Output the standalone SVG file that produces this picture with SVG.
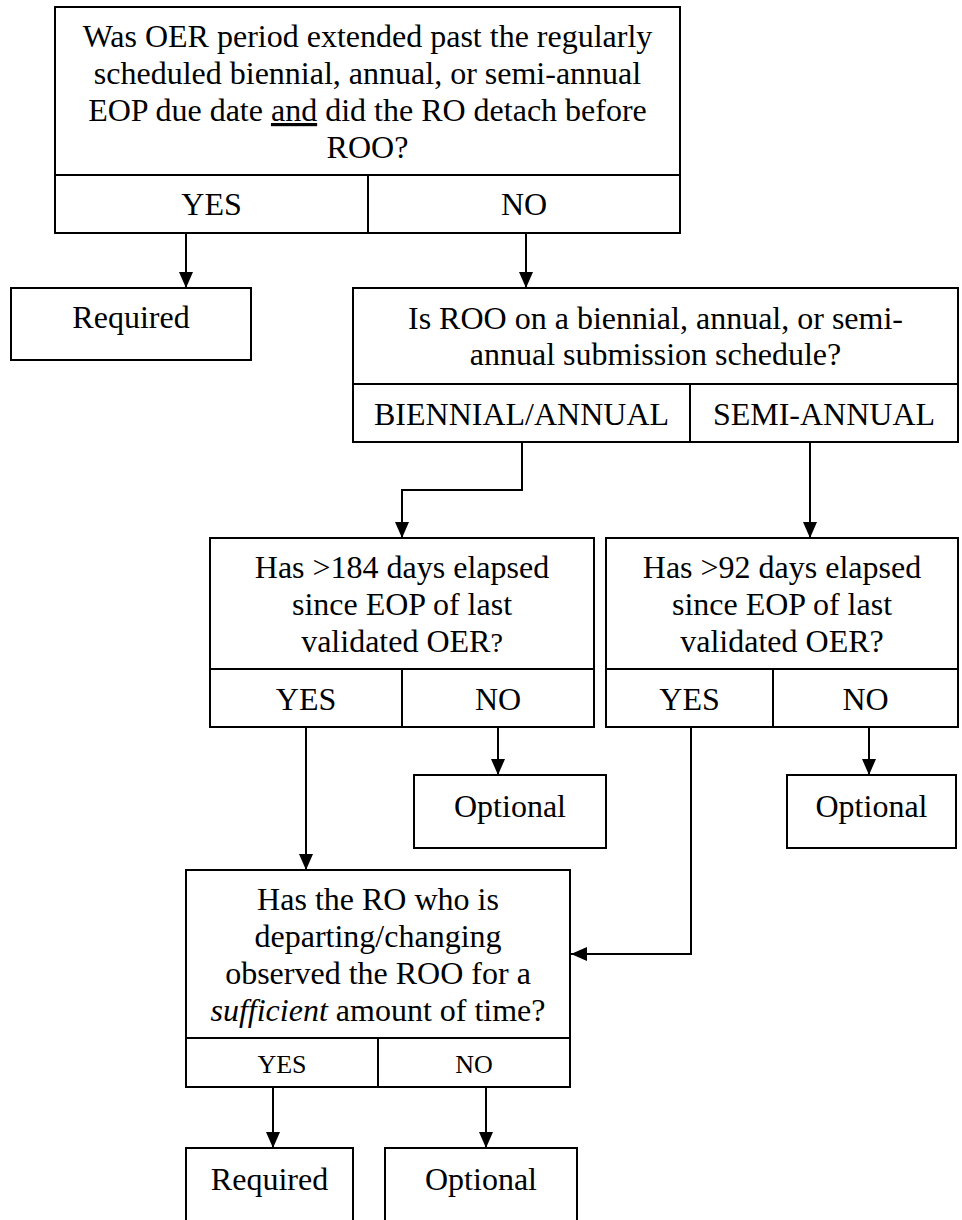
<svg xmlns="http://www.w3.org/2000/svg" width="962" height="1220" viewBox="0 0 962 1220">
  <style>
    .box { fill: #ffffff; stroke: #000000; stroke-width: 2; }
    .div { stroke: #000000; stroke-width: 2; fill: none; }
    .t { font-family: "Liberation Serif", "Times New Roman", serif; font-size: 32px; fill: #000000; text-anchor: middle; }
    .ts { font-family: "Liberation Serif", "Times New Roman", serif; font-size: 26px; fill: #000000; text-anchor: middle; }
    .wire { stroke: #000000; stroke-width: 2; fill: none; marker-end: url(#arrow); }
  </style>
  <defs>
    <marker id="arrow" markerUnits="userSpaceOnUse" markerWidth="16" markerHeight="14" refX="16" refY="7" orient="auto" viewBox="0 0 16 14">
      <path d="M0,0 L16,7 L0,14 Z" fill="#000000"/>
    </marker>
  </defs>

  <rect width="962" height="1220" fill="#ffffff"/>

  <!-- connectors -->
  <g id="connectors">
    <path class="wire" d="M186,233 V288"/>
    <path class="wire" d="M526,233 V288"/>
    <path class="wire" d="M522,442 V490 H402 V538"/>
    <path class="wire" d="M810,442 V538"/>
    <path class="wire" d="M306,727 V870"/>
    <path class="wire" d="M498,727 V775"/>
    <path class="wire" d="M691,727 V954 H571"/>
    <path class="wire" d="M869,727 V775"/>
    <path class="wire" d="M273,1087 V1148"/>
    <path class="wire" d="M486,1087 V1148"/>
  </g>

  <!-- Q1: extended OER period -->
  <g id="q-extended">
    <rect class="box" x="55" y="7" width="625" height="226"/>
    <line class="div" x1="55" y1="175" x2="680" y2="175"/>
    <line class="div" x1="368" y1="175" x2="368" y2="233"/>
    <text class="t" x="367.5" y="47">Was OER period extended past the regularly</text>
    <text class="t" x="367.5" y="84">scheduled biennial, annual, or semi-annual</text>
    <text class="t" x="367.5" y="121">EOP due date <tspan text-decoration="underline">and</tspan> did the RO detach before</text>
    <text class="t" x="367.5" y="158">ROO?</text>
    <text class="t" x="211.5" y="215">YES</text>
    <text class="t" x="524" y="215">NO</text>
  </g>

  <!-- Q1 yes -->
  <g id="required-1">
    <rect class="box" x="11" y="288" width="240" height="72"/>
    <text class="t" x="131" y="328">Required</text>
  </g>

  <!-- Q2: submission schedule -->
  <g id="q-schedule">
    <rect class="box" x="353" y="288" width="605" height="154"/>
    <line class="div" x1="353" y1="384" x2="958" y2="384"/>
    <line class="div" x1="690" y1="384" x2="690" y2="442"/>
    <text class="t" x="655.5" y="329">Is ROO on a biennial, annual, or semi-</text>
    <text class="t" x="655.5" y="365">annual submission schedule?</text>
    <text class="t" x="521.5" y="425">BIENNIAL/ANNUAL</text>
    <text class="t" x="824" y="425">SEMI-ANNUAL</text>
  </g>

  <!-- Q3a: 184 days -->
  <g id="q-184">
    <rect class="box" x="210" y="538" width="384" height="189"/>
    <line class="div" x1="210" y1="669" x2="594" y2="669"/>
    <line class="div" x1="402" y1="669" x2="402" y2="727"/>
    <text class="t" x="402" y="578">Has &gt;184 days elapsed</text>
    <text class="t" x="402" y="615">since EOP of last</text>
    <text class="t" x="402" y="652">validated OER<tspan font-size="28">?</tspan></text>
    <text class="t" x="306" y="710">YES</text>
    <text class="t" x="498" y="710">NO</text>
  </g>

  <!-- Q3b: 92 days -->
  <g id="q-92">
    <rect class="box" x="606" y="538" width="352" height="189"/>
    <line class="div" x1="606" y1="669" x2="958" y2="669"/>
    <line class="div" x1="773" y1="669" x2="773" y2="727"/>
    <text class="t" x="782" y="578">Has &gt;92 days elapsed</text>
    <text class="t" x="782" y="615">since EOP of last</text>
    <text class="t" x="782" y="652">validated OER?</text>
    <text class="t" x="689.5" y="710">YES</text>
    <text class="t" x="865.5" y="710">NO</text>
  </g>

  <g id="optional-1">
    <rect class="box" x="414" y="775" width="192" height="73"/>
    <text class="t" x="510" y="817">Optional</text>
  </g>

  <g id="optional-2">
    <rect class="box" x="787" y="775" width="169" height="73"/>
    <text class="t" x="871.5" y="817">Optional</text>
  </g>

  <!-- Q4: observation time -->
  <g id="q-sufficient">
    <rect class="box" x="186" y="870" width="384" height="217"/>
    <line class="div" x1="186" y1="1038" x2="570" y2="1038"/>
    <line class="div" x1="378" y1="1038" x2="378" y2="1087"/>
    <text class="t" x="378" y="910">Has the RO who is</text>
    <text class="t" x="378" y="947">departing/changing</text>
    <text class="t" x="378" y="984">observed the ROO for a</text>
    <text class="t" x="378" y="1021"><tspan font-style="italic">sufficient</tspan> amount of time?</text>
    <text class="ts" x="282" y="1073">YES</text>
    <text class="ts" x="474" y="1073">NO</text>
  </g>

  <g id="required-2">
    <rect class="box" x="186" y="1148" width="167" height="80"/>
    <text class="t" x="269.5" y="1190">Required</text>
  </g>

  <g id="optional-3">
    <rect class="box" x="385" y="1148" width="192" height="80"/>
    <text class="t" x="481" y="1190">Optional</text>
  </g>
</svg>
